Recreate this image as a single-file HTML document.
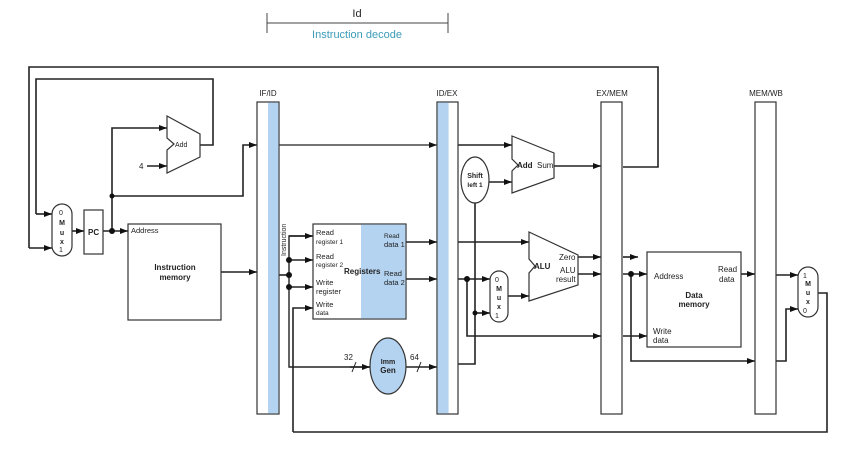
<!DOCTYPE html>
<html><head><meta charset="utf-8"><style>
html,body{margin:0;padding:0;background:#fff;}
svg{display:block;font-family:"Liberation Sans",sans-serif;}
</style></head><body>
<svg width="847" height="451" viewBox="0 0 847 451" xmlns="http://www.w3.org/2000/svg">
<defs>
<marker id="a" markerWidth="8" markerHeight="6" refX="8" refY="3" orient="auto" markerUnits="userSpaceOnUse"><path d="M0,0 L8,3 L0,6 z" fill="#111"/></marker>
</defs>
<!-- header -->
<text x="357" y="17" font-size="11" text-anchor="middle" fill="#222">Id</text>
<line x1="267" y1="23" x2="448" y2="23" stroke="#444" stroke-width="1"/>
<line x1="267" y1="13" x2="267" y2="33" stroke="#444"/>
<line x1="448" y1="13" x2="448" y2="33" stroke="#444"/>
<text x="357" y="38" font-size="11" text-anchor="middle" fill="#3a9bb8">Instruction decode</text>

<g fill="none" stroke="#222" stroke-width="1.6">
<!-- top loop -->
<polyline points="623,167 658,167 658,67 29,67 29,248" />
<line x1="29" y1="248" x2="52" y2="248" marker-end="url(#a)"/>
<polyline points="200,145 213,145 213,79 36,79 36,214"/>
<line x1="36" y1="214" x2="52" y2="214" marker-end="url(#a)"/>
<line x1="72" y1="231" x2="84" y2="231" marker-end="url(#a)"/>
<line x1="103" y1="231" x2="128" y2="231" marker-end="url(#a)"/>
<polyline points="112,231 112,128 167,128" marker-end="url(#a)"/>
<polyline points="112,196 243,196 243,145 257,145" marker-end="url(#a)"/>
<line x1="147" y1="166" x2="167" y2="166" marker-end="url(#a)"/>
<line x1="221" y1="272" x2="257" y2="272" marker-end="url(#a)"/>
<line x1="279" y1="145" x2="437" y2="145" stroke-width="1.2" marker-end="url(#a)"/>
<!-- instruction fanout -->
<polyline points="279,275 289,275"/>
<polyline points="313,236 289,236 289,367 370,367" stroke-width="1.4"/>
<line x1="289" y1="236" x2="313" y2="236" marker-end="url(#a)"/>
<line x1="289" y1="260" x2="313" y2="260" marker-end="url(#a)"/>
<line x1="289" y1="287" x2="313" y2="287" marker-end="url(#a)"/>
<line x1="350" y1="367" x2="370" y2="367" marker-end="url(#a)"/>
<polyline points="293,432 293,308 313,308" marker-end="url(#a)"/>
<polyline points="293,432 827,432 827,293 818,293"/>
<line x1="406" y1="242" x2="437" y2="242" marker-end="url(#a)"/>
<line x1="406" y1="279" x2="437" y2="279" marker-end="url(#a)"/>
<line x1="406" y1="367" x2="437" y2="367" marker-end="url(#a)"/>
<!-- EX -->
<line x1="458" y1="145" x2="512" y2="145" marker-end="url(#a)"/>
<line x1="489" y1="182" x2="512" y2="182" marker-end="url(#a)"/>
<polyline points="458,364 475,364 475,203"/>
<line x1="554" y1="166" x2="601" y2="166" marker-end="url(#a)"/>
<line x1="458" y1="242" x2="529" y2="242" marker-end="url(#a)"/>
<line x1="458" y1="279" x2="490" y2="279" marker-end="url(#a)"/>
<line x1="475" y1="313" x2="490" y2="313" marker-end="url(#a)"/>
<polyline points="467,279 467,336 601,336" marker-end="url(#a)"/>
<line x1="508" y1="296" x2="529" y2="296" marker-end="url(#a)"/>
<line x1="578" y1="257" x2="601" y2="257" marker-end="url(#a)"/>
<line x1="578" y1="274" x2="601" y2="274" marker-end="url(#a)"/>
<!-- MEM -->
<line x1="623" y1="257" x2="638" y2="257" marker-end="url(#a)"/>
<line x1="623" y1="274" x2="647" y2="274" marker-end="url(#a)"/>
<line x1="623" y1="336" x2="647" y2="336" marker-end="url(#a)"/>
<polyline points="631,274 631,361 755,361" marker-end="url(#a)"/>
<line x1="741" y1="274" x2="755" y2="274" marker-end="url(#a)"/>
<line x1="776" y1="275" x2="798" y2="275" marker-end="url(#a)"/>
<polyline points="776,361 786,361 786,309 798,309" marker-end="url(#a)"/>
</g>
<!-- slashes -->
<g stroke="#222" stroke-width="1"><line x1="352" y1="372" x2="356" y2="362"/><line x1="417" y1="372" x2="421" y2="362"/></g>
<text x="344" y="360" font-size="8" fill="#222">32</text>
<text x="410" y="360" font-size="8" fill="#222">64</text>
<!-- dots -->
<g fill="#111"><circle cx="112" cy="231" r="3"/><circle cx="112" cy="196" r="2.5"/><circle cx="289" cy="260" r="3"/><circle cx="289" cy="275" r="3"/><circle cx="289" cy="287" r="3"/><circle cx="467" cy="279" r="3"/><circle cx="475" cy="313" r="2.5"/><circle cx="631" cy="274" r="3"/></g>

<g stroke="#333" stroke-width="1.2" fill="#fff">
<!-- pipeline regs -->
<rect x="257" y="102" width="22" height="312"/>
<rect x="437" y="102" width="21" height="312"/>
<rect x="601" y="102" width="21" height="312"/>
<rect x="755" y="102" width="21" height="312"/>
<!-- mux1 -->
<rect x="52" y="204" width="20" height="52" rx="10"/>
<rect x="84" y="210" width="19" height="44"/>
<rect x="128" y="224" width="93" height="96"/>
<polygon points="167,116 200,134 200,157 167,173 167,150 174,144 167,138"/>
<rect x="313" y="224" width="93" height="95"/>
<polygon points="512,136 554,153 554,178 512,193 512,171 518,165 512,159"/>
<polygon points="529,232 578,255 578,285 529,301 529,273 535,266 529,259"/>
<rect x="490" y="271" width="18" height="51" rx="9"/>
<rect x="647" y="252" width="94" height="95"/>
<rect x="798" y="267" width="20" height="50" rx="10"/>
</g>
<rect x="268" y="102.6" width="10.4" height="310.8" fill="#b3d3f0"/>
<rect x="437.6" y="102.6" width="11" height="310.8" fill="#b3d3f0"/>
<rect x="361" y="224.6" width="44.4" height="93.8" fill="#b3d3f0"/>
<ellipse cx="388" cy="366" rx="18" ry="28" fill="#b3d3f0" stroke="#333" stroke-width="1.2"/>
<ellipse cx="475" cy="180" rx="14" ry="23" fill="#fff" stroke="#333" stroke-width="1.2"/>

<g font-size="8" fill="#222">
<text x="268" y="96" text-anchor="middle">IF/ID</text>
<text x="447" y="96" text-anchor="middle">ID/EX</text>
<text x="612" y="96" text-anchor="middle">EX/MEM</text>
<text x="766" y="96" text-anchor="middle">MEM/WB</text>
<text x="175" y="147" font-size="7">Add</text>
<text x="139" y="169">4</text>
<text x="88" y="235" font-weight="bold">PC</text>
<text x="131" y="233" font-size="7.5">Address</text>
<text x="175" y="270" text-anchor="middle" font-weight="bold">Instruction</text>
<text x="175" y="280" text-anchor="middle" font-weight="bold">memory</text>
<text x="286" y="256" font-size="7" transform="rotate(-90 286 256)">Instruction</text>
<g font-size="7.5">
<text x="316" y="235">Read</text><text x="316" y="244" font-size="6.5">register 1</text>
<text x="316" y="259">Read</text><text x="316" y="267" font-size="6.5">register 2</text>
<text x="316" y="285">Write</text><text x="316" y="294">register</text>
<text x="316" y="307">Write</text><text x="316" y="315" font-size="6.5">data</text>
<text x="384" y="238" font-size="6.5">Read</text><text x="384" y="247">data 1</text>
<text x="384" y="276">Read</text><text x="384" y="285">data 2</text>
</g>
<text x="344" y="274" font-weight="bold">Registers</text>
<text x="388" y="364" text-anchor="middle" font-size="7" font-weight="bold">Imm</text>
<text x="388" y="373" text-anchor="middle" font-weight="bold">Gen</text>
<text x="475" y="178" text-anchor="middle" font-size="7" font-weight="bold">Shift</text>
<text x="475" y="187" text-anchor="middle" font-size="6.5" font-weight="bold">left 1</text>
<text x="517" y="168" font-weight="bold">Add</text>
<text x="537" y="168">Sum</text>
<text x="534" y="269" font-weight="bold">ALU</text>
<text x="559" y="260">Zero</text>
<text x="560" y="273">ALU</text>
<text x="556" y="282">result</text>
<text x="654" y="279">Address</text>
<text x="718" y="272">Read</text><text x="719" y="282">data</text>
<text x="694" y="298" text-anchor="middle" font-weight="bold">Data</text>
<text x="694" y="307" text-anchor="middle" font-weight="bold">memory</text>
<text x="653" y="334">Write</text><text x="653" y="343">data</text>
</g>
<g font-size="7" fill="#222" text-anchor="middle">
<text x="61" y="215">0</text><text x="62" y="225" font-weight="bold">M</text><text x="62" y="235" font-weight="bold">u</text><text x="62" y="244" font-weight="bold">x</text><text x="61" y="252">1</text>
<text x="497" y="282">0</text><text x="499" y="291" font-weight="bold">M</text><text x="499" y="300" font-weight="bold">u</text><text x="499" y="309" font-weight="bold">x</text><text x="497" y="318">1</text>
<text x="805" y="278">1</text><text x="808" y="286" font-weight="bold">M</text><text x="808" y="295" font-weight="bold">u</text><text x="808" y="304" font-weight="bold">x</text><text x="805" y="313">0</text>
</g>
</svg>
</body></html>
